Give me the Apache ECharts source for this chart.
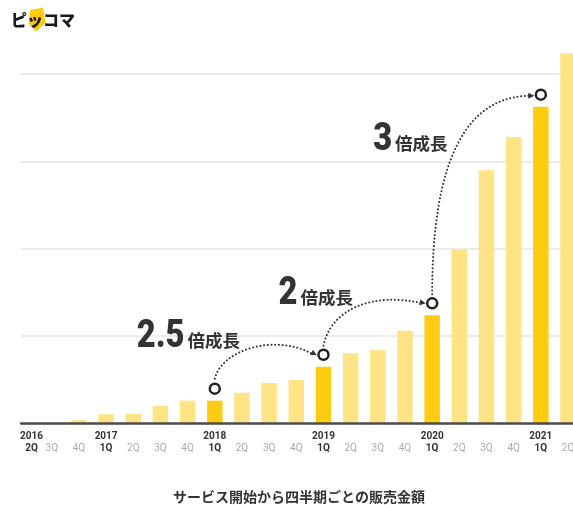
<!DOCTYPE html>
<html>
<head>
<meta charset="utf-8">
<script src="https://cdn.jsdelivr.net/npm/echarts@6/dist/echarts.min.js"></script>
<style>
  html, body { margin: 0; padding: 0; background: #fff; }
  #main { width: 573px; height: 505px; }
</style>
</head>
<body>
<div id="main"></div>
<script>
// 四半期ごとの販売金額（目盛り1本 = 100）
const categories = ['2016 2Q', '2016 3Q', '2016 4Q', '2017 1Q', '2017 2Q', '2017 3Q', '2017 4Q',
  '2018 1Q', '2018 2Q', '2018 3Q', '2018 4Q', '2019 1Q', '2019 2Q', '2019 3Q', '2019 4Q',
  '2020 1Q', '2020 2Q', '2020 3Q', '2020 4Q', '2021 1Q', '2021 2Q'];
const sales = [0, 0, 3.8, 10.3, 10.7, 19.8, 25.9, 25.9, 35, 46.2, 49.6, 64.8, 80.2, 83.6, 106,
  123.7, 199.3, 290, 328, 362.7, 423.8];
const milestones = ['2018 1Q', '2019 1Q', '2020 1Q', '2021 1Q'];
const growthRates = ['2.5', '2', '3'];
const growthSuffix = '倍成長';
const yTicks = [0, 100, 200, 300, 400];
const chartTitle = 'サービス開始から四半期ごとの販売金額';
const logoText = 'ピッコマ';

const DARK = '#FFCC12';
const LIGHT = '#FFE385';
const INK = '#333333';
const BASE_Y = 423.3;      // x軸の位置
const UNIT = 87.3 / 100;   // 1単位あたりのpx
const Y_MAX = 450;

// 矢印と注記の位置（円の中心からの相対位置）
const arcs = [
  { p0: [0, -10], c1: [7, -39], c2: [-48, -22], p3: [-7.5, 0] },
  { p0: [0, -9], c1: [7, -44], c2: [-62, -12], p3: [-7.5, 0] },
  { p0: [0, -9], c1: [0, -141], c2: [-76, 1], p3: [-7.5, 1] }
];
// 注記の左端とベースライン
const notes = [[-78, -41], [-45, -50], [-59, -152]];
const NUM_SIZE = 38;
const NUM_SCALE = 0.86;
const SUF_SIZE = 17.5;

const chart = echarts.init(document.getElementById('main'), null, { renderer: 'canvas' });

const tickStep = yTicks[1] - yTicks[0];

const option = {
  animation: false,
  title: {
    text: chartTitle,
    left: 168,
    top: 485,
    textStyle: { fontFamily: 'Noto Sans CJK JP', fontSize: 14, fontWeight: 'bold', color: INK }
  },
  grid: [
    { left: 11, width: 570.6, top: BASE_Y - Y_MAX * UNIT, height: Y_MAX * UNIT, outerBoundsMode: 'none', containLabel: false },
    { left: 21, right: 0, top: BASE_Y - yTicks[yTicks.length - 1] * UNIT, height: yTicks[yTicks.length - 1] * UNIT, outerBoundsMode: 'none', containLabel: false }
  ],
  xAxis: [
    {
      type: 'category',
      gridIndex: 0,
      data: categories,
      axisLine: { show: false },
      axisTick: { show: false },
      axisLabel: {
        interval: 0,
        margin: 7,
        formatter: (val, idx) => {
          const [y, q] = val.split(' ');
          const pre = idx === 0 ? '0' : '';
          if (idx === 0 || q === '1Q') return `{y${pre}|${y}}\n{q${pre}|${q}}`;
          return `{e| }\n{g|${q}}`;
        },
        rich: {
          y: { fontFamily: 'Roboto', fontWeight: 'bold', fontSize: 10, color: INK, lineHeight: 12 },
          q: { fontFamily: 'Roboto', fontWeight: 'bold', fontSize: 10, color: INK, lineHeight: 12 },
          y0: { fontFamily: 'Roboto', fontWeight: 'bold', fontSize: 10, color: INK, lineHeight: 12, padding: [0, 0, 0, 14] },
          q0: { fontFamily: 'Roboto', fontWeight: 'bold', fontSize: 10, color: INK, lineHeight: 12, padding: [0, 0, 0, 14] },
          e: { fontSize: 10, lineHeight: 12 },
          g: { fontFamily: 'Roboto', fontSize: 10, color: '#aaaaaa', lineHeight: 12 }
        }
      }
    },
    {
      type: 'value',
      gridIndex: 1,
      min: 0,
      max: 1,
      z: 3,
      axisLine: { show: true, lineStyle: { color: '#4d4d4d', width: 2.5 } },
      axisTick: { show: false },
      axisLabel: { show: false },
      splitLine: { show: false }
    }
  ],
  yAxis: [
    {
      type: 'value', gridIndex: 0, min: 0, max: Y_MAX,
      axisLine: { show: false }, axisTick: { show: false },
      axisLabel: { show: false }, splitLine: { show: false }
    },
    {
      type: 'value', gridIndex: 1, min: yTicks[0], max: yTicks[yTicks.length - 1], interval: tickStep,
      axisLine: { show: false }, axisTick: { show: false }, axisLabel: { show: false },
      splitLine: { show: true, lineStyle: { color: '#e6e6e6', width: 1.5 } }
    }
  ],
  series: [
    {
      type: 'bar',
      xAxisIndex: 0,
      yAxisIndex: 0,
      barWidth: 15.5,
      silent: true,
      data: sales.map((v, i) => ({
        value: v,
        itemStyle: { color: milestones.includes(categories[i]) ? DARK : LIGHT }
      }))
    },
    {
      type: 'scatter',
      xAxisIndex: 0,
      yAxisIndex: 0,
      silent: true,
      z: 5,
      symbol: 'circle',
      symbolSize: 10,
      symbolOffset: [0, -12],
      itemStyle: { color: '#fff', borderColor: '#222', borderWidth: 2.5, opacity: 1 },
      data: milestones.map(c => [c, sales[categories.indexOf(c)]])
    }
  ]
};

chart.setOption(option);

// 円の中心（バー上端から12px上）
function circleAt(cat) {
  const i = categories.indexOf(cat);
  const p = chart.convertToPixel({ xAxisIndex: 0, yAxisIndex: 0 }, [i, sales[i]]);
  return [p[0], p[1] - 12];
}

const measure = document.createElement('canvas').getContext('2d');
measure.font = `900 ${NUM_SIZE}px Roboto`;

const centers = milestones.map(circleAt);
const graphics = [];

arcs.forEach((a, k) => {
  const s = centers[k], e = centers[k + 1];
  const P0 = [s[0] + a.p0[0], s[1] + a.p0[1]];
  const P1 = [s[0] + a.c1[0], s[1] + a.c1[1]];
  const P2 = [e[0] + a.c2[0], e[1] + a.c2[1]];
  const P3 = [e[0] + a.p3[0], e[1] + a.p3[1]];
  graphics.push({
    type: 'bezierCurve',
    z: 10,
    silent: true,
    shape: { x1: P0[0], y1: P0[1], x2: P3[0] - 2, y2: P3[1], cpx1: P1[0], cpy1: P1[1], cpx2: P2[0], cpy2: P2[1] },
    style: { stroke: INK, lineWidth: 2, lineDash: [0.1, 3.6], lineCap: 'round', fill: null }
  });
  // 矢じり
  let dx = P3[0] - P2[0], dy = P3[1] - P2[1];
  const len = Math.hypot(dx, dy);
  dx /= len; dy /= len;
  const tip = [P3[0] + dx, P3[1] + dy];
  const back = [P3[0] - dx * 5, P3[1] - dy * 5];
  graphics.push({
    type: 'polygon',
    z: 10,
    silent: true,
    shape: { points: [tip, [back[0] - dy * 3, back[1] + dx * 3], [back[0] + dy * 3, back[1] - dx * 3]] },
    style: { fill: INK }
  });
  // 注記（数字 + 倍成長）
  const left = s[0] + notes[k][0];
  const base = s[1] + notes[k][1];
  const numW = measure.measureText(growthRates[k]).width * NUM_SCALE;
  graphics.push({
    type: 'text',
    z: 10,
    silent: true,
    x: left,
    y: base + NUM_SIZE * 0.22,
    scaleX: NUM_SCALE,
    style: {
      text: growthRates[k],
      fontFamily: 'Roboto',
      fontWeight: 900,
      fontSize: NUM_SIZE,
      fill: INK,
      align: 'left',
      verticalAlign: 'bottom'
    }
  });
  graphics.push({
    type: 'text',
    z: 10,
    silent: true,
    x: left + numW + 3,
    y: base + 1,
    style: {
      text: growthSuffix,
      fontFamily: 'Noto Sans CJK JP',
      fontWeight: 'bold',
      fontSize: SUF_SIZE,
      fill: INK,
      align: 'left',
      verticalAlign: 'bottom'
    }
  });
});

// ロゴ
graphics.push({
  type: 'polygon',
  silent: true,
  shape: { points: [[30, 10], [43, 7.5], [45.5, 23], [36, 31.5], [28.5, 24]] },
  style: { fill: DARK }
});
graphics.push({
  type: 'text',
  silent: true,
  x: 11,
  y: 20,
  style: {
    text: logoText,
    fontFamily: 'Noto Sans CJK JP',
    fontWeight: 900,
    fontSize: 16,
    fill: '#1a1a1a',
    verticalAlign: 'middle'
  }
});

chart.setOption({ graphic: graphics });
</script>
</body>
</html>
